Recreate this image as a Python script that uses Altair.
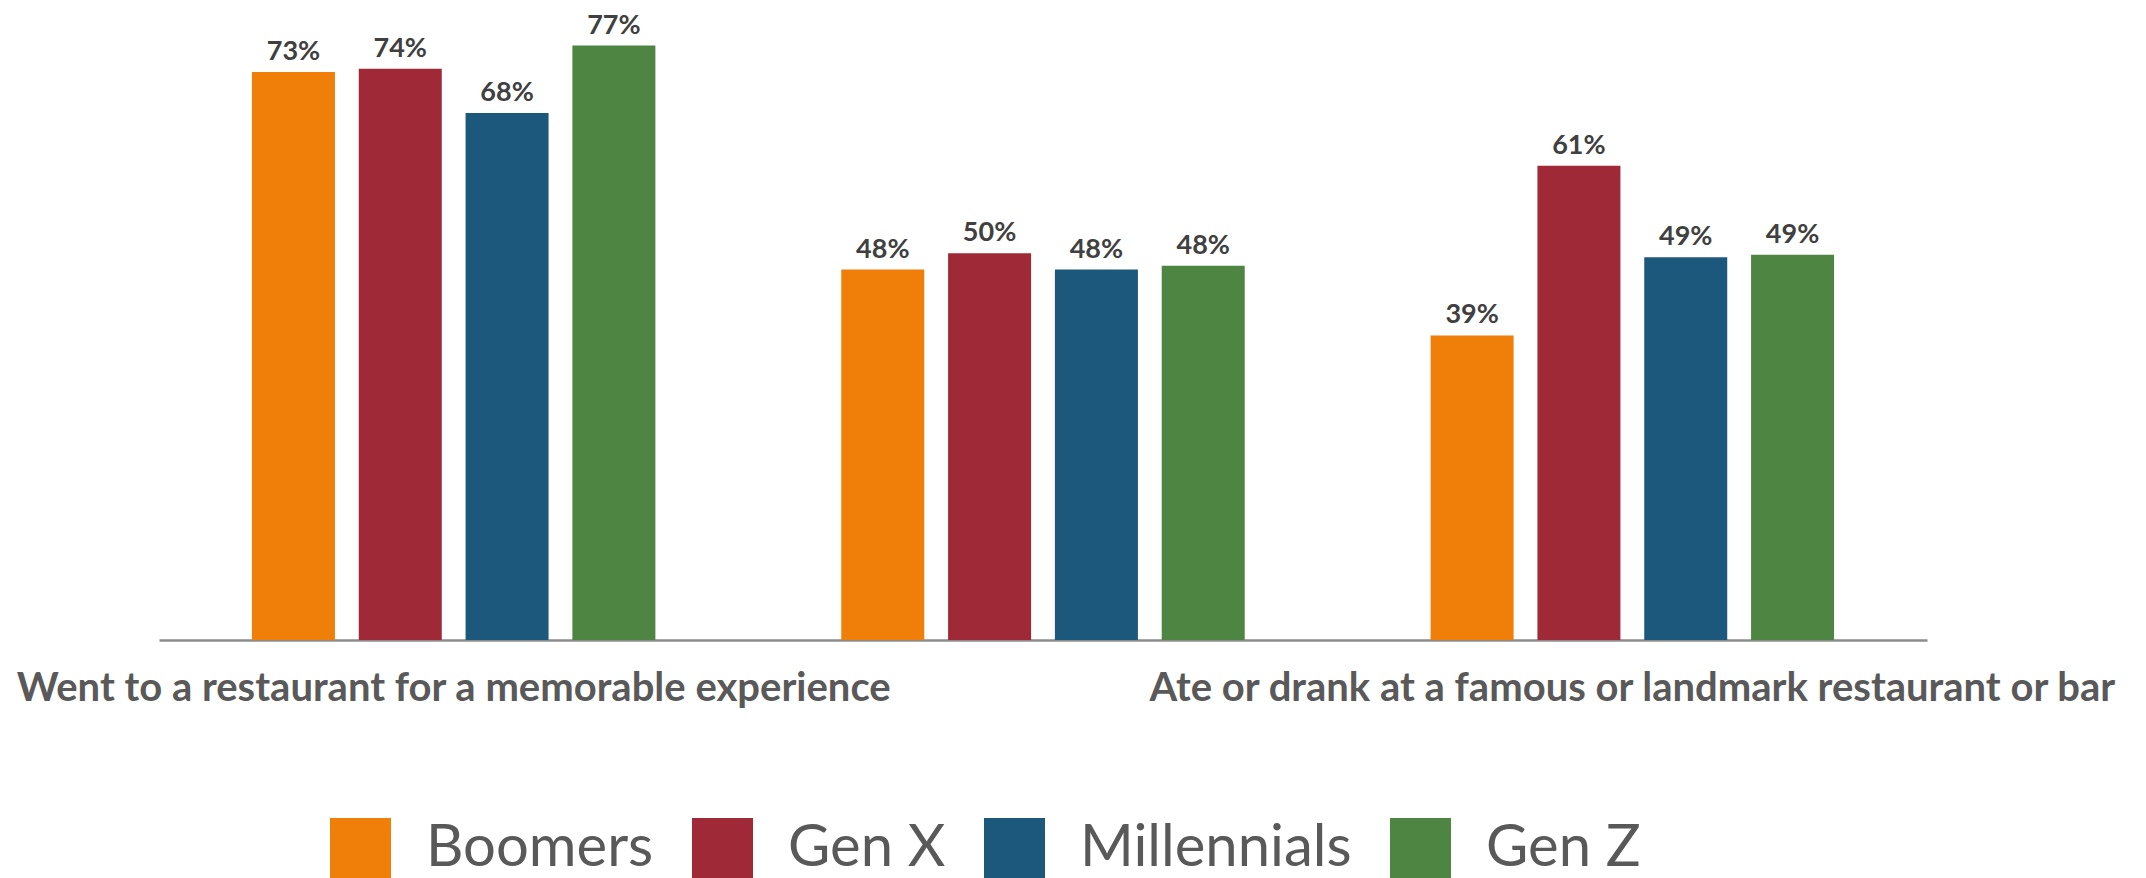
import altair as alt
import pandas as pd

categories = [
    "Went to a restaurant for a memorable experience",
    "Sought out local food or drink specialties on a trip",
    "Ate or drank at a famous or landmark restaurant or bar",
]
generations = ["Boomers", "Gen X", "Millennials", "Gen Z"]
colors = ["#F07F09", "#9F2936", "#1B587C", "#4E8542"]

# bar heights (percent), per generation across the 3 categories
boomers = [73.3, 47.8, 39.3]
gen_x = [73.7, 49.9, 61.2]
millennials = [68.0, 47.8, 49.4]
gen_z = [76.7, 48.3, 49.7]

# data labels as printed
boomers_lbl = ["73%", "48%", "39%"]
gen_x_lbl = ["74%", "50%", "61%"]
millennials_lbl = ["68%", "48%", "49%"]
gen_z_lbl = ["77%", "48%", "49%"]

series = [boomers, gen_x, millennials, gen_z]
labels = [boomers_lbl, gen_x_lbl, millennials_lbl, gen_z_lbl]

rows = []
for g, vals, lbls in zip(generations, series, labels):
    for c, v, l in zip(categories, vals, lbls):
        rows.append({"category": c, "generation": g, "value": v, "label": l})
df = pd.DataFrame(rows)

x_enc = alt.X(
    "category:N",
    sort=categories,
    scale=alt.Scale(paddingInner=0.275, paddingOuter=0.1375),
    axis=alt.Axis(
        title=None,
        labelAngle=0,
        labelFont="Lato",
        labelFontWeight="bold",
        labelFontSize=40,
        labelColor="#595959",
        labelLimit=2000,
        labelPadding=60,
        labelBaseline="alphabetic",
        labelOverlap="parity",
        ticks=False,
        tickSize=0,
        domainColor="#8C8C8C",
        domainWidth=2.5,
        grid=False,
    ),
)
xoff = alt.XOffset(
    "generation:N",
    sort=generations,
    scale=alt.Scale(paddingInner=0.223, paddingOuter=0.1115),
)
y_enc = alt.Y("value:Q", scale=alt.Scale(domain=[0, 80], nice=False), axis=None)

bars = alt.Chart(df).mark_bar().encode(
    x=x_enc,
    xOffset=xoff,
    y=y_enc,
    color=alt.Color(
        "generation:N",
        sort=generations,
        scale=alt.Scale(domain=generations, range=colors),
        legend=alt.Legend(
            title=None,
            orient="none",
            legendX=171,
            legendY=798,
            direction="horizontal",
            columns=4,
            symbolType="square",
            symbolSize=3721,
            symbolStrokeWidth=0,
            symbolOpacity=1,
            labelFont="Lato",
            labelFontSize=58,
            labelColor="#595959",
            labelLimit=2000,
            labelOffset=35,
            columnPadding=38,
            padding=0,
        ),
    ),
)

texts = alt.Chart(df).mark_text(
    baseline="alphabetic",
    dy=-12,
    font="Lato",
    fontWeight="bold",
    fontSize=27,
    color="#404040",
).encode(
    x=alt.X("category:N", sort=categories),
    xOffset=alt.XOffset("generation:N", sort=generations),
    y=alt.Y("value:Q"),
    text="label:N",
)

chart = (
    alt.layer(bars, texts)
    .properties(
        width=1768,
        height=620,
        padding={"left": 151, "top": 12, "right": 200, "bottom": 238},
        autosize=alt.AutoSizeParams(type="none"),
    )
    .configure_view(stroke=None)
)

chart.save("out.html", embed_options={"renderer": "svg", "actions": False})
